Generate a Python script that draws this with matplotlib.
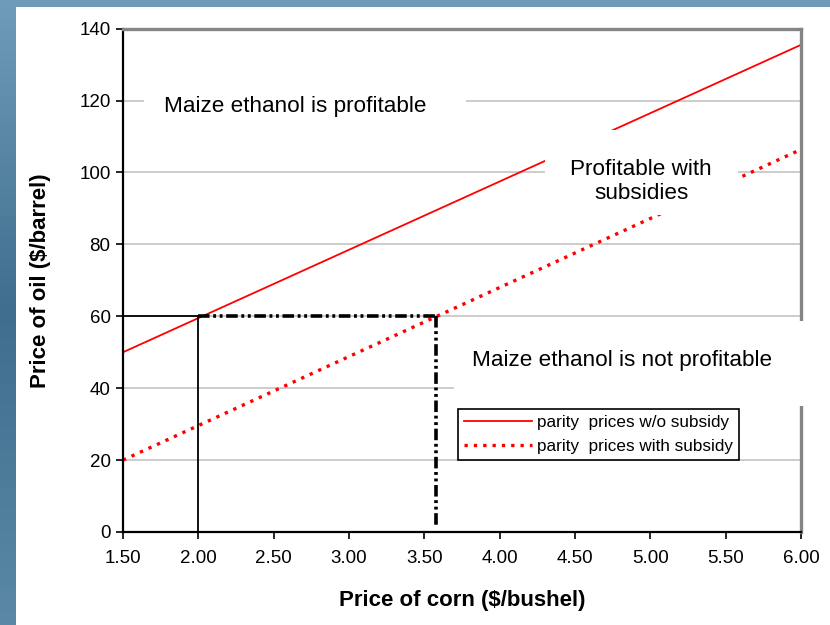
import numpy as np
import matplotlib.pyplot as plt
from matplotlib.patches import Rectangle

# corn price ($/bushel) and parity oil prices ($/barrel)
corn = [1.50, 2.00, 2.50, 3.00, 3.50, 4.00, 4.50, 5.00, 5.50, 6.00]
parity_no_subsidy = [50, 59.5, 69, 78.5, 88, 97.5, 107, 116.5, 126, 135.5]
parity_subsidy = [20, 29.6, 39.2, 48.8, 58.4, 68, 77.6, 87.2, 96.8, 106.4]

oil_ref = 60
corn_ref_no_sub = 2.00
corn_ref_sub = 3.58

x_ticks = [1.5, 2.0, 2.5, 3.0, 3.5, 4.0, 4.5, 5.0, 5.5, 6.0]
y_ticks = [0, 20, 40, 60, 80, 100, 120, 140]

plt.rcParams["font.family"] = ["Liberation Sans", "DejaVu Sans"]

fig = plt.figure(figsize=(8.3, 6.25), dpi=100)

# blue slide background with a white panel
bg = fig.add_axes([0, 0, 1, 1], zorder=-10)
grad = np.linspace(0, 1, 256).reshape(-1, 1)
bg.imshow(grad, aspect="auto", cmap=plt.matplotlib.colors.LinearSegmentedColormap.from_list(
    "slide", ["#6f9cb8", "#3f6e8e", "#5a88a6"]), extent=[0, 1, 0, 1])
bg.add_patch(Rectangle((16 / 830, 0), 1, (625 - 7) / 625, facecolor="white",
                       edgecolor="none", transform=bg.transAxes))
bg.set_xlim(0, 1)
bg.set_ylim(0, 1)
bg.axis("off")

ax = fig.add_axes([0.1482, 0.1488, 0.8168, 0.8053])
ax.set_facecolor("white")

ax.plot(corn, parity_no_subsidy, color="#ff0000", lw=1.3, zorder=2,
        label="parity  prices w/o subsidy")
ax.plot(corn, parity_subsidy, color="#ff0000", lw=2.4, linestyle=(0, (1, 1.8)),
        zorder=2, label="parity  prices with subsidy")

# reference lines at oil = 60
ax.plot([corn[0], corn_ref_no_sub], [oil_ref, oil_ref], color="black", lw=1.3, zorder=4)
ax.plot([corn_ref_no_sub, corn_ref_no_sub], [0, oil_ref], color="black", lw=1.3, zorder=4)
dd = (0, (3.2, 1.0, 0.8, 1.0, 0.8, 1.0))
ax.plot([corn_ref_no_sub, corn_ref_sub], [oil_ref, oil_ref], color="black", lw=2.6,
        linestyle=dd, zorder=4)
ax.plot([corn_ref_sub, corn_ref_sub], [oil_ref, 2], color="black", lw=2.6,
        linestyle=dd, zorder=4)

# white boxes behind the region labels
for (x0, y0, w, h) in [(1.64, 112, 2.14, 16), (4.30, 88.2, 1.28, 23.6), (3.70, 35.0, 2.6, 23.7)]:
    ax.add_patch(Rectangle((x0, y0), w, h, facecolor="white", edgecolor="none",
                           zorder=2.6, clip_on=False))

ax.text(2.64, 118.4, "Maize ethanol is profitable", fontsize=16.2, ha="center",
        va="center", zorder=3)
ax.text(4.94, 97.6, "Profitable with\nsubsidies", fontsize=16.2, ha="center",
        va="center", zorder=3, linespacing=1.2)
ax.text(4.81, 47.6, "Maize ethanol is not profitable", fontsize=16.2, ha="center",
        va="center", zorder=3)

ax.set_xlim(1.5, 6.0)
ax.set_ylim(0, 140)
ax.set_xticks(x_ticks)
ax.set_xticklabels([f"{v:.2f}" for v in x_ticks])
ax.set_yticks(y_ticks)
ax.tick_params(axis="both", labelsize=13.5, direction="out", length=5, width=1.2, color="black")
ax.tick_params(axis="y", pad=4)
ax.tick_params(axis="x", pad=8)

ax.set_axisbelow(True)
ax.yaxis.grid(True, color="#c4c4c4", lw=1.2)
ax.xaxis.grid(False)

for side in ["left", "bottom"]:
    ax.spines[side].set_color("black")
    ax.spines[side].set_linewidth(1.6)
for side in ["top", "right"]:
    ax.spines[side].set_color("#858585")
    ax.spines[side].set_linewidth(2.4)

ax.set_xlabel("Price of corn ($/bushel)", fontsize=16, fontweight="bold")
ax.set_ylabel("Price of oil ($/barrel)", fontsize=16, fontweight="bold")
ax.xaxis.set_label_coords(0.5, -0.115)
ax.yaxis.set_label_coords(-0.106, 0.5)

leg = ax.legend(loc="upper left", bbox_to_anchor=(0.494, 0.244), borderaxespad=0,
                fontsize=12.3, frameon=True, fancybox=False, edgecolor="black",
                framealpha=1, handlelength=4.0, labelspacing=0.5, borderpad=0.35,
                handletextpad=0.3)
leg.get_frame().set_linewidth(1.2)
leg.set_zorder(5)

fig.savefig("out.png", dpi=100)
